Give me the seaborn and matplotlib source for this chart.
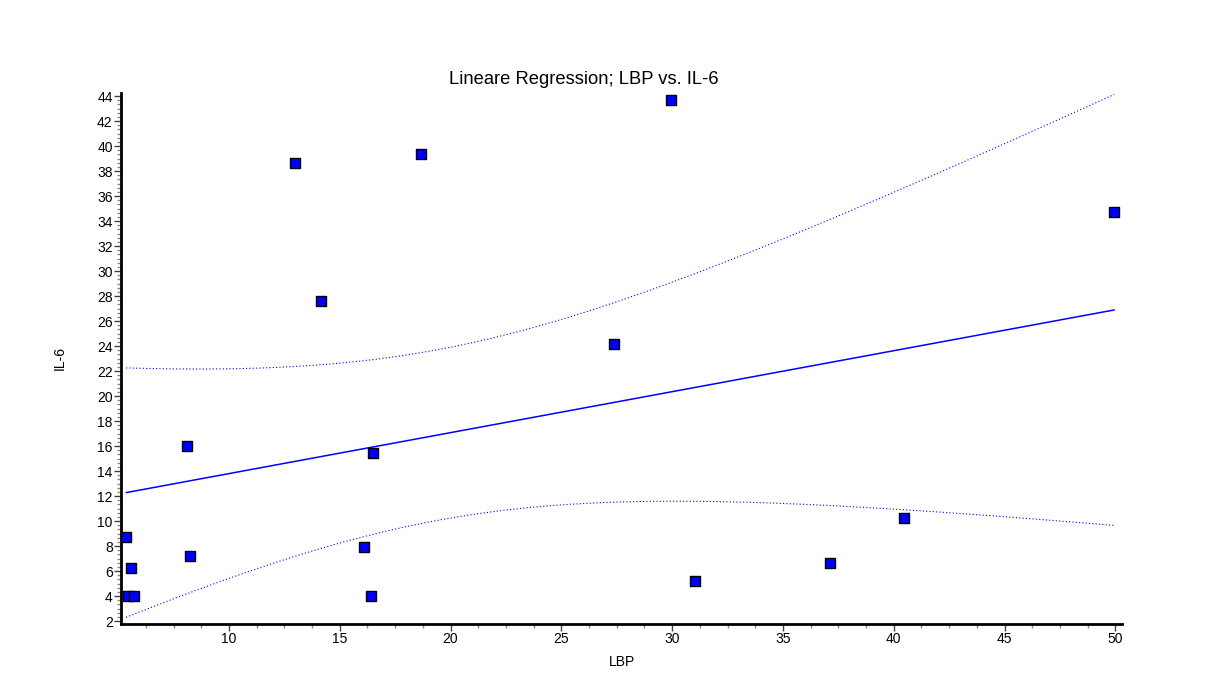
import numpy as np
import pandas as pd
import matplotlib
matplotlib.use("Agg")
import matplotlib.pyplot as plt
from matplotlib.ticker import MultipleLocator
import seaborn as sns

# Werte
LBP = [5.36, 5.58, 5.45, 5.70, 8.10, 8.24, 12.97, 14.15, 16.49, 16.09, 16.40,
       18.66, 27.36, 29.97, 31.05, 37.14, 40.48, 49.95]
IL6 = [8.72, 6.24, 4.00, 4.00, 16.00, 7.20, 38.64, 27.60, 15.44, 7.90, 4.00,
       39.36, 24.16, 43.68, 5.20, 6.64, 10.24, 34.72]

data = pd.DataFrame({'LBP': LBP, 'IL-6': IL6})

# Regression und 95%-Konfidenzband fuer den Mittelwert
x = np.array(LBP)
y = np.array(IL6)
n = len(x)
b, a = np.polyfit(x, y, 1)
resid = y - (a + b * x)
s = np.sqrt(np.sum(resid ** 2) / (n - 2))
sxx = np.sum((x - x.mean()) ** 2)
t_val = 2.1199  # t(0.975, df=16)
xs = np.linspace(x.min(), x.max(), 200)
fit = a + b * xs
half = t_val * s * np.sqrt(1 / n + (xs - x.mean()) ** 2 / sxx)
band = pd.DataFrame({'x': xs, 'fit': fit, 'lo': fit - half, 'hi': fit + half})

sns.set_style("white", {'text.color': 'black', 'axes.labelcolor': 'black',
                        'xtick.color': 'black', 'ytick.color': 'black'})
plt.rcParams['font.family'] = ['Liberation Sans', 'DejaVu Sans']

fig = plt.figure(figsize=(12.09, 6.95), dpi=100)
ax = fig.add_axes([121 / 1209, 1 - 624 / 695, (1122 - 121) / 1209, (624 - 93) / 695])

sns.lineplot(data=band, x='x', y='fit', ax=ax, color='#0000ff', lw=1.1)
sns.lineplot(data=band, x='x', y='lo', ax=ax, color='#0000ff', lw=0.8,
             linestyle=(0, (1, 2)))
sns.lineplot(data=band, x='x', y='hi', ax=ax, color='#0000ff', lw=0.8,
             linestyle=(0, (1, 2)))
sns.scatterplot(data=data, x='LBP', y='IL-6', ax=ax, marker='s', s=60,
                color='#0000ff', edgecolor='black', linewidth=1.0, zorder=5)

ax.set_xlim(5.13, 50.3)
ax.set_ylim(1.76, 44.25)
ax.xaxis.set_major_locator(MultipleLocator(5))
ax.xaxis.set_minor_locator(MultipleLocator(1.25))
ax.yaxis.set_major_locator(MultipleLocator(2))
ax.yaxis.set_minor_locator(MultipleLocator(2 / 6))
ax.set_xticks([10, 15, 20, 25, 30, 35, 40, 45, 50])
ax.set_yticks(range(2, 45, 2))

for side in ['top', 'right']:
    ax.spines[side].set_visible(False)
for side in ['left', 'bottom']:
    ax.spines[side].set_linewidth(2)
    ax.spines[side].set_color('black')

ax.tick_params(which='major', direction='out', length=5, width=1, color='#444444',
               labelsize=10, labelcolor='black', pad=1, left=True, bottom=True)
ax.tick_params(which='minor', direction='out', length=3, width=1, color='#888888',
               left=True, bottom=True)

# Titel sitzt im Original nicht mittig ueber der Achse
fig.text(584 / 1209, 1 - 80 / 695, 'Lineare Regression; LBP vs. IL-6',
         fontsize=13.2, ha='center', va='center', color='black')
ax.set_xlabel('LBP', fontsize=10, labelpad=6)
ax.set_ylabel('IL-6', fontsize=10, labelpad=22)
ax.grid(False)

fig.savefig('out.png', dpi=100)
